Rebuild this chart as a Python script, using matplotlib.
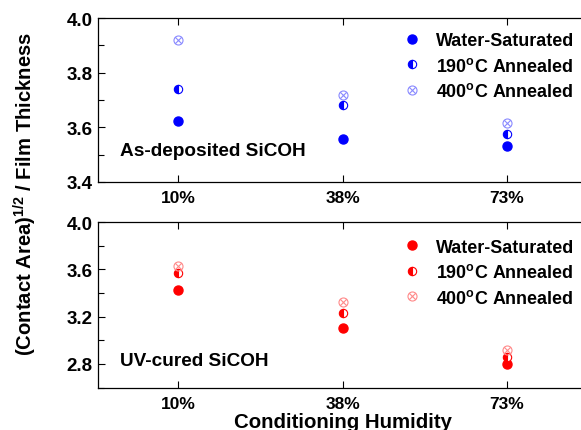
"""Contact area / film thickness vs. conditioning humidity for two SiCOH films."""

import matplotlib.pyplot as plt
import numpy as np
from matplotlib.path import Path
from matplotlib.ticker import MultipleLocator

plt.rcParams["font.family"] = ["Liberation Sans", "DejaVu Sans"]
plt.rcParams["font.weight"] = "bold"
plt.rcParams["mathtext.fontset"] = "custom"
plt.rcParams["mathtext.rm"] = "Liberation Sans:bold"
plt.rcParams["mathtext.default"] = "rm"

# ---------------------------------------------------------------------------
# Data
# ---------------------------------------------------------------------------

humidity = ["10%", "38%", "73%"]
series = ["Water-Saturated", "190$^{o}$C Annealed", "400$^{o}$C Annealed"]

asdep_water = [3.623, 3.558, 3.533]
asdep_190 = [3.739, 3.683, 3.576]
asdep_400 = [3.921, 3.719, 3.615]

uv_water = [3.424, 3.104, 2.799]
uv_190 = [3.568, 3.231, 2.858]
uv_400 = [3.630, 3.322, 2.918]

# circle with an X through it
_circ = Path.unit_circle()
_r = np.sqrt(0.5)
_cross = Path([(-_r, -_r), (_r, _r), (-_r, _r), (_r, -_r)],
              [Path.MOVETO, Path.LINETO, Path.MOVETO, Path.LINETO])
CIRCLE_X = Path.make_compound_path(_circ, _cross)

# ---------------------------------------------------------------------------
# Plot
# ---------------------------------------------------------------------------

fig = plt.figure(figsize=(5.81, 4.31), dpi=100)
W, H = 581, 431
ax_top = fig.add_axes([98 / W, 1 - 183 / H, 491 / W, 164 / H])
ax_bot = fig.add_axes([98 / W, 1 - 388.5 / H, 491 / W, 165.5 / H])

x = np.arange(len(humidity))


def draw_panel(ax, water, ann190, ann400, color, light, label, label_y, ylim, major, minor, leg_y):
    ax.plot(x, water, "o", color=color, ms=6.5, mec=color, ls="none", label=series[0])
    ax.plot(x, ann190, "o", color=color, ms=6, mec=color, mfc=color, fillstyle="left",
            markerfacecoloralt="white", mew=0.8, ls="none", label=series[1])
    ax.plot(x, ann400, marker=CIRCLE_X, color=light, ms=6.5, mfc="none", mec=light,
            mew=0.8, ls="none", label=series[2])
    ax.set_xlim(-0.49, 2.5)
    ax.set_ylim(*ylim)
    ax.set_xticks(x)
    ax.set_xticklabels(humidity)
    ax.yaxis.set_major_locator(MultipleLocator(major))
    ax.yaxis.set_minor_locator(MultipleLocator(minor))
    ax.yaxis.set_major_formatter(plt.FormatStrFormatter("%.1f"))
    ax.tick_params(axis="both", which="both", direction="in", top=True, right=True,
                   width=0.8)
    ax.tick_params(axis="x", which="major", length=5, pad=6, labelsize=12.5)
    ax.tick_params(axis="y", which="major", length=5, pad=4, labelsize=13.5)
    ax.tick_params(axis="y", which="minor", length=4)
    for s in ax.spines.values():
        s.set_linewidth(0.9)
    ax.text(0.045, label_y, label, transform=ax.transAxes, fontsize=13.7,
            fontweight="bold", va="center", ha="left")
    ax.legend(loc="upper left", bbox_to_anchor=(0.603, leg_y), frameon=False,
              fontsize=12.9, handletextpad=0.75, labelspacing=0.42, handlelength=1.2,
              borderaxespad=0)


draw_panel(ax_top, asdep_water, asdep_190, asdep_400, "#0000ff", "#8a8aff",
           "As-deposited SiCOH", 0.19, (3.4, 4.0), 0.2, 0.1, 0.958)
draw_panel(ax_bot, uv_water, uv_190, uv_400, "#ff0000", "#ff8a8a",
           "UV-cured SiCOH", 0.165, (2.6, 4.0), 0.4, 0.2, 0.943)

ax_bot.set_xlabel("Conditioning Humidity", fontsize=14.7, fontweight="bold", labelpad=1)
fig.text(25 / W, 1 - 194 / H,
         "(Contact Area)$^{1/2}$ / Film Thickness",
         rotation=90, fontsize=14.6, fontweight="bold", ha="center", va="center")

fig.savefig("out.png", dpi=100)
